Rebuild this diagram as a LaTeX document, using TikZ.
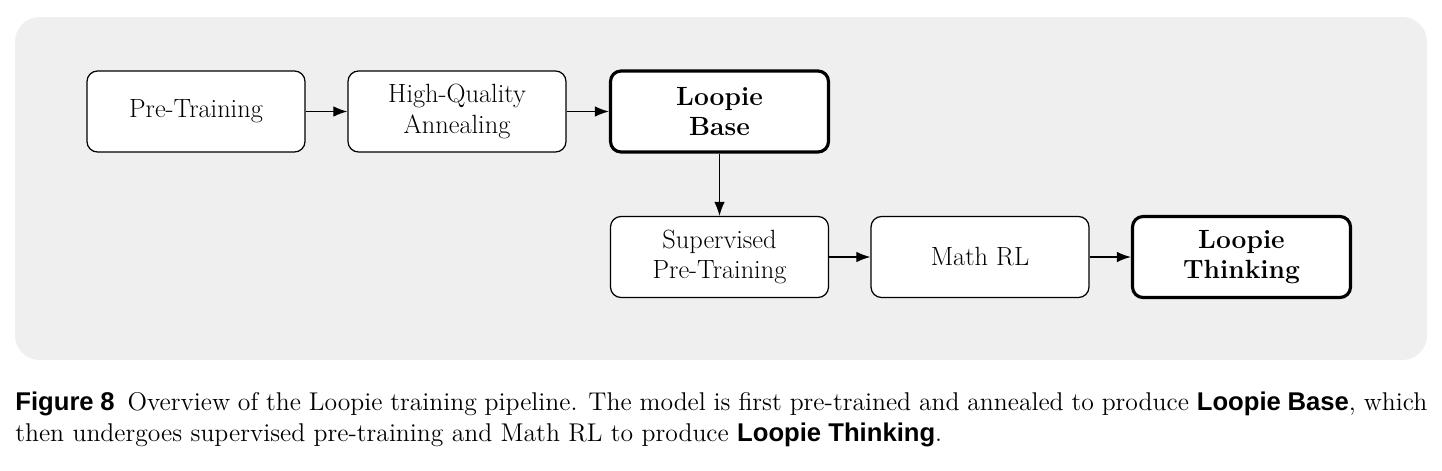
\documentclass[tikz,border=0pt]{standalone}
\usepackage{fontspec}
\newfontfamily\capsans{Liberation Sans}
\usetikzlibrary{arrows.meta}
\definecolor{bgc}{HTML}{EFEFEF}
\begin{document}
\begin{tikzpicture}[x=0.02cm,y=-0.02cm,
  box/.style={draw,fill=white,rounded corners=6pt,line width=0.7pt,minimum width=218*0.02cm,minimum height=81*0.02cm,align=center,font=\fontsize{15}{17.5}\selectfont,inner sep=0pt},
  main/.style={box,line width=1.8pt,font=\fontsize{15}{17.5}\selectfont\bfseries},
  arr/.style={-{Latex[length=8pt,width=6pt]},line width=0.7pt}]
\useasboundingbox (0,0) rectangle (1442,470);
\fill[bgc,rounded corners=14pt] (15,17) rectangle (1427,360);
\node[box] (pt) at (196,111.5) {Pre-Training};
\node[box] (hq) at (457,111.5) {High-Quality\\Annealing};
\node[main] (lb) at (719.5,111.5) {Loopie\\Base};
\node[box] (sp) at (719.5,257) {Supervised\\Pre-Training};
\node[box] (mr) at (980,257) {Math RL};
\node[main] (lt) at (1241.5,257) {Loopie\\Thinking};
\draw[arr] (pt) -- (hq);
\draw[arr] (hq) -- (lb);
\draw[arr] (lb) -- (sp);
\draw[arr] (sp) -- (mr);
\draw[arr] (mr) -- (lt);
\node[anchor=north west,inner sep=0pt,text width=1412*0.02cm,align=justify,font=\fontsize{14.6}{17.5}\selectfont] (cap) at (15,392)
{{\capsans\bfseries Figure 8}\enspace Overview of the Loopie training pipeline. The model is first pre-trained and annealed to produce {\capsans\bfseries Loopie Base}, which then undergoes supervised pre-training and Math RL to produce {\capsans\bfseries Loopie Thinking}.};
\end{tikzpicture}
\end{document}
